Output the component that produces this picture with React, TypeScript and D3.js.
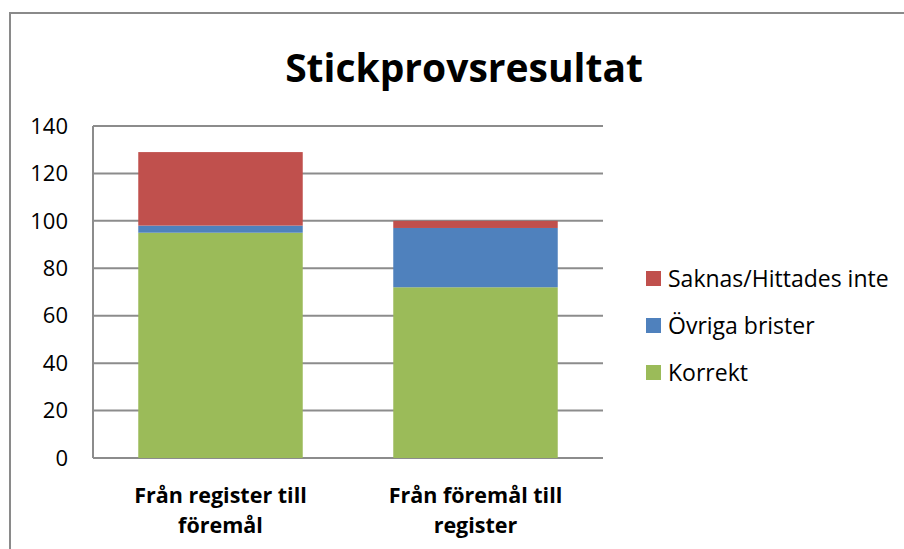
import React, { useRef, useEffect } from 'react';
import * as d3 from 'd3';

const categories = ['Från register till föremål', 'Från föremål till register'];
const categoryLines = [['Från register till', 'föremål'], ['Från föremål till', 'register']];
const seriesNames = ['Korrekt', 'Övriga brister', 'Saknas/Hittades inte'];
const korrekt = [95, 72];
const ovrigaBrister = [3, 25];
const saknas = [31, 3];
const colors = ['#9BBB59', '#4F81BD', '#C0504D'];
const yTicks = [0, 20, 40, 60, 80, 100, 120, 140];

const FONT = '"Open Sans", Lato, sans-serif';

const App = () => {
  const svgRef = useRef<SVGSVGElement>(null);

  useEffect(() => {
    const svg = d3.select(svgRef.current);
    svg.selectAll('*').remove();
    const width = 904;
    const height = 549;
    const margin = { top: 126, right: 301, bottom: 91, left: 93 };
    const innerWidth = width - margin.left - margin.right;
    const innerHeight = height - margin.top - margin.bottom;

    // outer chart border (runs off the right and bottom edges)
    svg.append('rect')
      .attr('x', 10).attr('y', 13)
      .attr('width', 920).attr('height', 560)
      .attr('fill', 'white')
      .attr('stroke', '#8a8a8a')
      .attr('stroke-width', 2);

    svg.append('text')
      .attr('x', 464).attr('y', 82)
      .attr('text-anchor', 'middle')
      .style('font-family', FONT)
      .style('font-weight', 'bold')
      .style('font-size', '39px')
      .text('Stickprovsresultat');

    const g = svg.append('g')
      .attr('transform', `translate(${margin.left},${margin.top})`);

    const x = d3.scaleBand<number>()
      .domain(categories.map((_, i) => i))
      .range([0, innerWidth])
      .padding(0);

    const y = d3.scaleLinear()
      .domain([0, 140])
      .range([innerHeight, 0]);

    // gridlines
    g.append('g')
      .selectAll('line')
      .data(yTicks)
      .enter()
      .append('line')
      .attr('x1', 0).attr('x2', innerWidth)
      .attr('y1', d => y(d)).attr('y2', d => y(d))
      .attr('stroke', '#8c8c8c')
      .attr('stroke-width', 2);

    g.append('line')
      .attr('x1', 0).attr('x2', 0)
      .attr('y1', 0).attr('y2', innerHeight)
      .attr('stroke', '#8c8c8c')
      .attr('stroke-width', 2);

    // y tick labels
    g.append('g')
      .selectAll('text')
      .data(yTicks)
      .enter()
      .append('text')
      .attr('x', -25)
      .attr('y', d => y(d))
      .attr('dy', '0.35em')
      .attr('text-anchor', 'end')
      .style('font-family', FONT)
      .style('font-size', '22px')
      .text(d => d);

    const rows = categories.map((c, i) => ({
      cat: i,
      Korrekt: korrekt[i],
      'Övriga brister': ovrigaBrister[i],
      'Saknas/Hittades inte': saknas[i],
    }));

    const stack = d3.stack<any>().keys(seriesNames);
    const stacked = stack(rows);

    const barWidth = x.bandwidth() * 0.645;
    const offset = (x.bandwidth() - barWidth) / 2;

    stacked.forEach((layer, li) => {
      g.append('g')
        .selectAll('rect')
        .data(layer)
        .enter()
        .append('rect')
        .attr('x', d => (x(d.data.cat) as number) + offset)
        .attr('width', barWidth)
        .attr('y', d => y(d[1]))
        .attr('height', d => y(d[0]) - y(d[1]))
        .attr('fill', colors[li]);
    });

    // category labels
    categoryLines.forEach((lines, i) => {
      const cx = (x(i) as number) + x.bandwidth() / 2;
      lines.forEach((ln, j) => {
        g.append('text')
          .attr('x', cx)
          .attr('y', innerHeight + 45 + j * 30)
          .attr('text-anchor', 'middle')
          .style('font-family', FONT)
          .style('font-weight', 'bold')
          .style('font-size', '21.5px')
          .text(ln);
      });
    });

    // legend (reverse order, top = Saknas)
    const legendItems = seriesNames.map((n, i) => ({ name: n, color: colors[i] })).reverse();
    const legend = svg.append('g').attr('transform', 'translate(646,271)');
    legendItems.forEach((item, i) => {
      legend.append('rect')
        .attr('x', 0).attr('y', i * 47)
        .attr('width', 15).attr('height', 15)
        .attr('fill', item.color);
      legend.append('text')
        .attr('x', 22).attr('y', i * 47 + 7.5)
        .attr('dy', '0.35em')
        .style('font-family', FONT)
        .style('font-size', '23px')
        .text(item.name);
    });
  }, []);

  return (
    <svg
      ref={svgRef}
      width={904}
      height={549}
      style={{ position: 'absolute', left: 0, top: 0 }}
    ></svg>
  );
};

export default App;
